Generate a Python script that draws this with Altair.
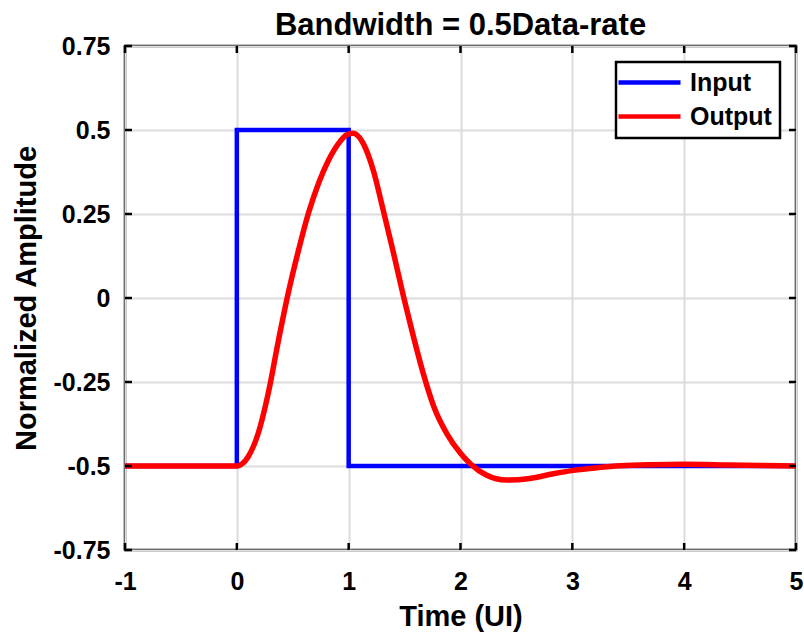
import altair as alt
import pandas as pd

FONT = "Liberation Sans"

x_ticks = [-1, 0, 1, 2, 3, 4, 5]
y_ticks = [-0.75, -0.5, -0.25, 0, 0.25, 0.5, 0.75]

input_t = [-1, 0, 0, 1, 1, 5]
input_v = [-0.5, -0.5, 0.5, 0.5, -0.5, -0.5]

output_t = [-1, 0, 0.05, 0.10, 0.19, 0.28, 0.37, 0.46, 0.55, 0.64, 0.73, 0.82,
            0.91, 0.98, 1.04, 1.13, 1.22, 1.31, 1.40, 1.49, 1.58, 1.67, 1.76,
            1.88, 2.00, 2.09, 2.23, 2.41, 2.62, 2.83, 3.01, 3.22, 3.43, 3.70,
            4.00, 4.40, 5]
output_v = [-0.5, -0.5, -0.493, -0.473, -0.404, -0.285, -0.13, 0.015, 0.14,
            0.252, 0.341, 0.41, 0.46, 0.485, 0.49, 0.46, 0.38, 0.26, 0.135,
            0.005, -0.116, -0.228, -0.322, -0.405, -0.462, -0.494, -0.527,
            -0.542, -0.537, -0.523, -0.513, -0.505, -0.499, -0.496, -0.495,
            -0.497, -0.5]

series_names = ["Input", "Output"]
series_colors = ["#0000ff", "#ff0000"]

W, H = 671, 504
TICK = 7

inp = pd.DataFrame({"t": input_t, "v": input_v, "series": "Input",
                    "i": list(range(len(input_t)))})
out = pd.DataFrame({"t": output_t, "v": output_v, "series": "Output",
                    "i": list(range(len(output_t)))})
xt = pd.DataFrame({"t": x_ticks})
yt = pd.DataFrame({"v": y_ticks})

xscale = alt.Scale(domain=[-1, 5], nice=False, zero=False)
yscale = alt.Scale(domain=[-0.75, 0.75], nice=False, zero=False)

xaxis = alt.Axis(values=x_ticks, labelExpr="toString(datum.value)",
                 title="Time (UI)", grid=True, gridColor="#dcdcdc", gridWidth=2,
                 ticks=False, domain=False, labelFontSize=25,
                 labelFontWeight="bold", labelFont=FONT, labelPadding=19,
                 labelColor="black", labelFlush=False, labelOverlap=False,
                 titleFont=FONT, titleFontSize=29, titleFontWeight="bold",
                 titleColor="black", titleY=75, titleBaseline="alphabetic")
yaxis = alt.Axis(values=y_ticks, labelExpr="toString(datum.value)",
                 title="Normalized Amplitude", grid=True, gridColor="#dcdcdc",
                 gridWidth=2, ticks=False, domain=False, labelFontSize=25,
                 labelFontWeight="bold", labelFont=FONT, labelPadding=15,
                 labelColor="black", labelFlush=False, labelOverlap=False,
                 titleFont=FONT, titleFontSize=29, titleFontWeight="bold",
                 titleColor="black", titleAngle=270, titleX=-90, titleY=H / 2,
                 titleAlign="center", titleBaseline="alphabetic")

X = alt.X("t:Q", scale=xscale, axis=xaxis)
Y = alt.Y("v:Q", scale=yscale, axis=yaxis)

color = alt.Color(
    "series:N",
    scale=alt.Scale(domain=series_names, range=series_colors),
    legend=alt.Legend(title=None, orient="top-right", offset=16,
                      fillColor="white", strokeColor="black", padding=8,
                      symbolType="M-3.1,0H3.1", symbolSize=400,
                      symbolStrokeWidth=4.5, symbolOffset=13,
                      labelOffset=28, labelFontSize=25,
                      labelFontWeight="bold", labelFont=FONT,
                      labelColor="black", rowPadding=8, symbolOpacity=1),
)

blue = alt.Chart(inp).mark_line(strokeWidth=4.5, clip=True).encode(
    x=X, y=Y, color=color, order=alt.Order("i:Q"),
)
red = alt.Chart(out).mark_line(strokeWidth=5.5, interpolate="monotone",
                               clip=True).encode(
    x=X, y=Y, color=color, order=alt.Order("i:Q"),
)

tick_style = dict(color="black", strokeWidth=2.5)
top_ticks = alt.Chart(xt).mark_rule(**tick_style).encode(
    x=X, y=alt.value(0), y2=alt.value(TICK))
bot_ticks = alt.Chart(xt).mark_rule(**tick_style).encode(
    x=X, y=alt.value(H), y2=alt.value(H - TICK))
left_ticks = alt.Chart(yt).mark_rule(**tick_style).encode(
    y=Y, x=alt.value(0), x2=alt.value(TICK))
right_ticks = alt.Chart(yt).mark_rule(**tick_style).encode(
    y=Y, x=alt.value(W), x2=alt.value(W - TICK))

chart = alt.layer(
    blue, red, top_ticks, bot_ticks, left_ticks, right_ticks
).properties(
    width=W, height=H,
    padding={"left": 125, "top": 46, "right": 8, "bottom": 85},
    autosize=alt.AutoSizeParams(type="none"),
    title=alt.Title("Bandwidth = 0.5Data-rate", fontSize=31,
                    fontWeight="bold", font=FONT, anchor="middle", offset=0,
                    dy=8, color="black"),
).configure_view(
    stroke="black", strokeWidth=2.5
).configure_legend(
    strokeWidth=2.5
)

chart.save("out.html", embed_options={"renderer": "svg", "actions": False})
